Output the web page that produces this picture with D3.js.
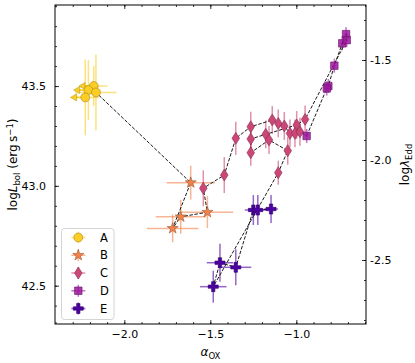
<!DOCTYPE html>
<html>
<head>
<meta charset="utf-8">
<script src="https://cdn.jsdelivr.net/npm/d3@7"></script>
<style>
body { margin: 0; background: #fff; }
svg { display: block; font-family: "DejaVu Sans", sans-serif; }
</style>
</head>
<body>
<div id="chart"></div>
<script>
// phases, colours (plasma) and marker kinds
var phases = ["A", "B", "C", "D", "E"];
var phaseColors = ["#fcce25", "#f2844b", "#cc4778", "#9c179e", "#4c02a1"];
var phaseShapes = ["circle", "star", "thin_diamond", "square", "plus"];

// [id, alpha_ox, logLbol, xerr, yerr]
var ptsA = [
  ["A1", -2.178, 43.500, 0.08, 0.10],
  ["A2", -2.209, 43.480, 0.07, 0.15],
  ["A3", -2.165, 43.468, 0.12, 0.19],
  ["A4", -2.227, 43.443, 0.08, 0.19]
];
var upperLimits = ["A1", "A2", "A4"];   // alpha_ox upper limits
var ptsB = [
  ["B1", -1.614, 43.016, 0.14, 0.085],
  ["B2", -1.517, 42.868, 0.15, 0.08],
  ["B3", -1.672, 42.845, 0.145, 0.085],
  ["B4", -1.719, 42.787, 0.15, 0.07]
];
var ptsC = [
  ["C1", -1.541, 42.988, 0.015, 0.09],
  ["C2", -1.419, 43.054, 0.015, 0.09],
  ["C3", -1.352, 43.238, 0.015, 0.083],
  ["C4", -1.265, 43.296, 0.015, 0.075],
  ["C5", -1.265, 43.235, 0.015, 0.07],
  ["C6", -1.265, 43.166, 0.015, 0.065],
  ["C7", -1.178, 43.258, 0.015, 0.07],
  ["C8", -1.159, 43.230, 0.015, 0.07],
  ["C9", -1.140, 43.330, 0.015, 0.07],
  ["C10", -1.105, 43.313, 0.015, 0.07],
  ["C11", -1.070, 43.300, 0.015, 0.07],
  ["C12", -1.037, 43.263, 0.015, 0.07],
  ["C13", -0.998, 43.305, 0.015, 0.07],
  ["C14", -1.008, 43.263, 0.015, 0.07],
  ["C15", -0.979, 43.271, 0.015, 0.07],
  ["C16", -0.949, 43.333, 0.015, 0.07],
  ["C17", -1.050, 43.176, 0.015, 0.07],
  ["C18", -1.105, 43.066, 0.015, 0.06]
];
var ptsD = [
  ["D1", -0.940, 43.250, 0.01, 0.035],
  ["D2", -0.814, 43.500, 0.01, 0.035],
  ["D2b", -0.823, 43.488, 0.01, 0.035],
  ["D3", -0.779, 43.602, 0.01, 0.035],
  ["D4", -0.733, 43.714, 0.01, 0.035],
  ["D5", -0.711, 43.760, 0.01, 0.035],
  ["D6", -0.707, 43.730, 0.01, 0.035]
];
var ptsE = [
  ["E1", -1.250, 42.879, 0.05, 0.075],
  ["E2", -1.224, 42.879, 0.05, 0.075],
  ["E3", -1.147, 42.884, 0.04, 0.07],
  ["E4", -1.444, 42.615, 0.077, 0.095],
  ["E5", -1.352, 42.592, 0.09, 0.09],
  ["E6", -1.483, 42.495, 0.077, 0.08]
];

// order in which the dashed track joins the points
var track = ["A4", "A2", "A1", "A3", "B1", "B4", "B3", "B2", "C1", "C2", "C3",
  "C4", "C9", "C10", "C11", "C12", "C14", "C15", "D1", "D2b", "D2", "D3", "D4",
  "D5", "D6", "C16", "C13", "C7", "C5", "C6", "C8", "C17", "C18", "E6", "E4",
  "E5", "E1", "E2", "E3"];

var xTicks = [-2.0, -1.5, -1.0];
var yTicks = [42.5, 43.0, 43.5];
var eddTicks = [-2.5, -2.0, -1.5];

var upperLen = 0.062;   // length of the limit arrows

var width = 415, height = 363;
var margin = {top: 5, right: 49, bottom: 39, left: 55};
var iw = width - margin.left - margin.right,
    ih = height - margin.top - margin.bottom;

var x = d3.scaleLinear().domain([-2.403, -0.595]).range([0, iw]);
var y = d3.scaleLinear().domain([42.308, 43.906]).range([ih, 0]);
var yEdd = d3.scaleLinear().domain([-2.82, -1.225]).range([ih, 0]);

var svg = d3.select("#chart").append("svg")
    .attr("width", width).attr("height", height);
svg.append("rect").attr("width", width).attr("height", height).attr("fill", "#fff");

var g = svg.append("g")
    .attr("transform", "translate(" + margin.left + "," + margin.top + ")");

// gather points
var groups = [ptsA, ptsB, ptsC, ptsD, ptsE];
var points = [];
groups.forEach(function(list, gi) {
  list.forEach(function(p) {
    points.push({id: p[0], x: p[1], y: p[2], xe: p[3], ye: p[4], phase: gi});
  });
});
var byId = {};
points.forEach(function(p) { byId[p.id] = p; });

function markerPath(kind) {
  if (kind == "circle") return d3.symbol(d3.symbolCircle, 62)();
  if (kind == "star") return d3.symbol(d3.symbolStar, 38)();
  if (kind == "square") return d3.symbol(d3.symbolSquare, 56)();
  if (kind == "plus") return d3.symbol(d3.symbolCross, 56)();
  return "M0,-6L3.8,0L0,6L-3.8,0Z";
}

// error bars
var eb = g.append("g").attr("class", "errorbars");
points.forEach(function(p) {
  var c = phaseColors[p.phase];
  eb.append("line")
    .attr("x1", x(p.x - p.xe)).attr("x2", x(p.x + p.xe))
    .attr("y1", y(p.y)).attr("y2", y(p.y))
    .attr("stroke", c).attr("stroke-width", 1.5).attr("stroke-opacity", 0.6);
  eb.append("line")
    .attr("x1", x(p.x)).attr("x2", x(p.x))
    .attr("y1", y(p.y - p.ye)).attr("y2", y(p.y + p.ye))
    .attr("stroke", c).attr("stroke-width", 1.5).attr("stroke-opacity", 0.6);
});

// upper limit arrows on alpha_ox
upperLimits.forEach(function(id) {
  var p = byId[id], c = phaseColors[p.phase];
  eb.append("line")
    .attr("x1", x(p.x)).attr("x2", x(p.x - upperLen))
    .attr("y1", y(p.y)).attr("y2", y(p.y))
    .attr("stroke", c).attr("stroke-width", 1.5);
  eb.append("path")
    .attr("d", d3.symbol(d3.symbolTriangle, 22)())
    .attr("transform", "translate(" + x(p.x - upperLen) + "," + y(p.y) + ") rotate(-90)")
    .attr("fill", c).attr("stroke", d3.color(c).darker(1)).attr("stroke-width", 0.5);
});

// dashed track
var line = d3.line().x(function(d) { return x(d.x); }).y(function(d) { return y(d.y); });
g.append("path")
  .datum(track.map(function(id) { return byId[id]; }))
  .attr("d", line)
  .attr("fill", "none")
  .attr("stroke", "#1a1a1a")
  .attr("stroke-width", 1)
  .attr("stroke-dasharray", "3.5,1.6");

// markers
g.append("g").selectAll("path.pt")
  .data(points)
  .join("path")
    .attr("class", "pt")
    .attr("d", function(d) { return markerPath(phaseShapes[d.phase]); })
    .attr("transform", function(d) { return "translate(" + x(d.x) + "," + y(d.y) + ")"; })
    .attr("fill", function(d) { return phaseColors[d.phase]; })
    .attr("fill-opacity", function(d) { return d.phase == 3 ? 0.85 : 1; })
    .attr("stroke", function(d) { return d3.color(phaseColors[d.phase]).darker(1.2); })
    .attr("stroke-width", 0.6);

// axes (ticks pointing inward)
var fmt = d3.format(".1f");
function minors(lo, hi) {
  return d3.range(Math.round(lo * 10), Math.round(hi * 10) + 1).map(function(v) { return v / 10; });
}
function styleAxis(sel) {
  sel.select(".domain").remove();
  sel.selectAll(".tick line").attr("stroke", "#000").attr("stroke-width", 0.8);
  sel.selectAll("text").attr("fill", "#000").attr("font-size", 11)
    .attr("font-family", "DejaVu Sans, sans-serif");
}

g.append("g").attr("transform", "translate(0," + ih + ")")
  .call(d3.axisBottom(x).tickValues(xTicks).tickSize(-4).tickPadding(6.5).tickFormat(fmt))
  .call(styleAxis);
g.append("g").attr("transform", "translate(0," + ih + ")")
  .call(d3.axisBottom(x).tickValues(minors(-2.4, -0.6)).tickSize(-2).tickFormat(""))
  .call(styleAxis);
g.append("g")
  .call(d3.axisTop(x).tickValues(xTicks).tickSize(-4).tickFormat(""))
  .call(styleAxis);
g.append("g")
  .call(d3.axisTop(x).tickValues(minors(-2.4, -0.6)).tickSize(-2).tickFormat(""))
  .call(styleAxis);

g.append("g")
  .call(d3.axisLeft(y).tickValues(yTicks).tickSize(-4).tickPadding(9).tickFormat(fmt))
  .call(styleAxis);
g.append("g")
  .call(d3.axisLeft(y).tickValues(minors(42.4, 43.9)).tickSize(-2).tickFormat(""))
  .call(styleAxis);

g.append("g").attr("transform", "translate(" + iw + ",0)")
  .call(d3.axisRight(yEdd).tickValues(eddTicks).tickSize(-4).tickPadding(4)
    .tickFormat(function(d) { return d.toFixed(1); }))
  .call(styleAxis);
g.append("g").attr("transform", "translate(" + iw + ",0)")
  .call(d3.axisRight(yEdd).tickValues(minors(-2.8, -1.3)).tickSize(-2).tickFormat(""))
  .call(styleAxis);

// frame
g.append("rect")
  .attr("width", iw).attr("height", ih)
  .attr("fill", "none").attr("stroke", "#000").attr("stroke-width", 1);

// axis labels
var xl = svg.append("text")
  .attr("x", margin.left + iw / 2).attr("y", 356)
  .attr("text-anchor", "middle").attr("font-size", 12);
xl.append("tspan").attr("font-style", "italic").text("α");
xl.append("tspan").attr("font-size", 8.5).attr("dy", 2.5).text("OX");

var yl = svg.append("text")
  .attr("transform", "translate(17," + (margin.top + ih / 2) + ") rotate(-90)")
  .attr("text-anchor", "middle").attr("font-size", 12);
yl.append("tspan").text("log");
yl.append("tspan").attr("font-style", "italic").text("L");
yl.append("tspan").attr("font-size", 8.5).attr("dy", 2.5).text("bol");
yl.append("tspan").attr("dy", -2.5).text(" (erg\u2009s");
yl.append("tspan").attr("font-size", 8.5).attr("dy", -4.5).text("\u22121");
yl.append("tspan").attr("dy", 4.5).text(")");

var yr = svg.append("text")
  .attr("transform", "translate(409," + (margin.top + ih / 2) + ") rotate(-90)")
  .attr("text-anchor", "middle").attr("font-size", 12);
yr.append("tspan").text("log");
yr.append("tspan").attr("font-style", "italic").text("λ");
yr.append("tspan").attr("font-size", 8.5).attr("dy", 2.5).text("Edd");

// legend
var lg = svg.append("g").attr("transform", "translate(61.5,228.5)");
lg.append("rect")
  .attr("width", 52.5).attr("height", 91).attr("rx", 3)
  .attr("fill", "#fff").attr("fill-opacity", 0.8)
  .attr("stroke", "#d4d4d4").attr("stroke-width", 1);
phases.forEach(function(name, i) {
  var cy = 9 + i * 17.75, cx = 16.8, c = phaseColors[i];
  var row = lg.append("g");
  row.append("line").attr("x1", cx - 7).attr("x2", cx + 7).attr("y1", cy).attr("y2", cy)
    .attr("stroke", c).attr("stroke-width", 1.5).attr("stroke-opacity", 0.6);
  row.append("line").attr("x1", cx).attr("x2", cx).attr("y1", cy - 6).attr("y2", cy + 6)
    .attr("stroke", c).attr("stroke-width", 1.5).attr("stroke-opacity", 0.6);
  row.append("path").attr("d", markerPath(phaseShapes[i]))
    .attr("transform", "translate(" + cx + "," + cy + ")")
    .attr("fill", c).attr("fill-opacity", i == 3 ? 0.85 : 1)
    .attr("stroke", d3.color(c).darker(1.2)).attr("stroke-width", 0.6);
  row.append("text").attr("x", 38.5).attr("y", cy).attr("dy", "0.36em")
    .attr("font-size", 11.5).attr("fill", "#000").text(name);
});
</script>
</body>
</html>
